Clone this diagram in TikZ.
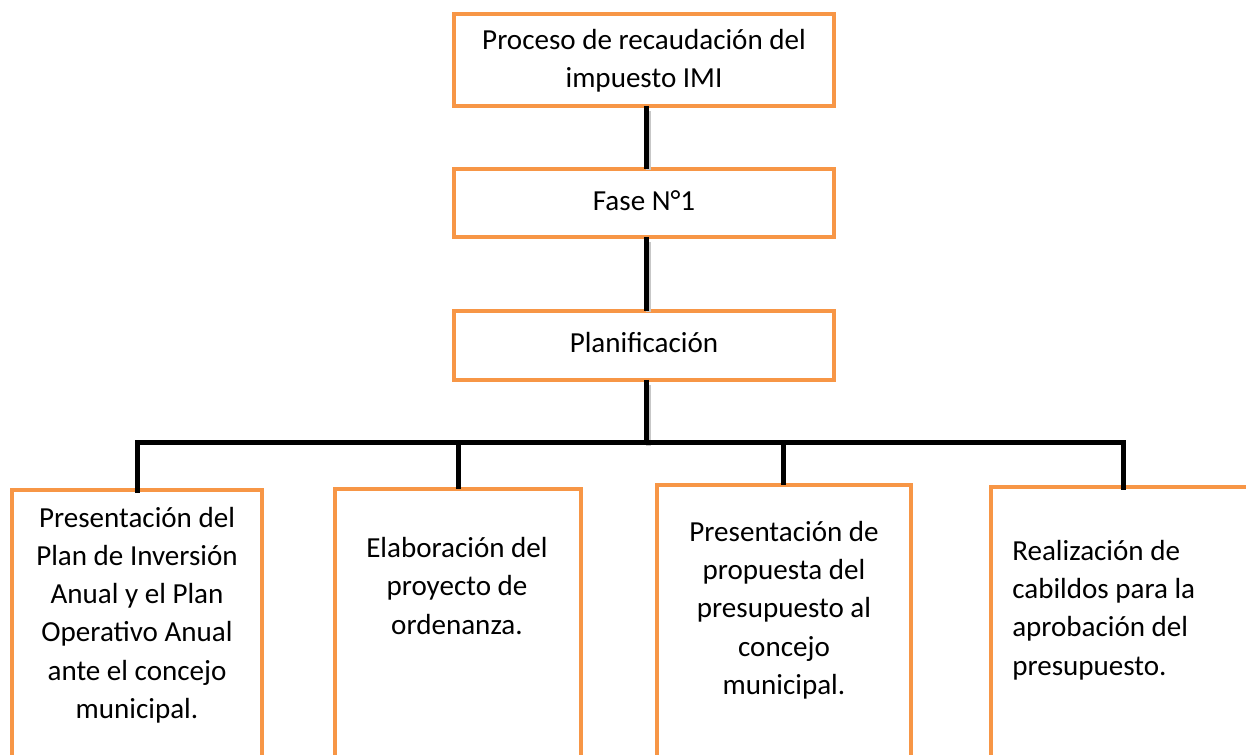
\documentclass[tikz,border=0pt]{standalone}
\usepackage{fontspec}
\setmainfont{Carlito}
\definecolor{boxorange}{RGB}{247,150,70}
\begin{document}
\begin{tikzpicture}[x=0.75pt,y=-0.75pt,
  obox/.style={draw=boxorange,line width=3pt,outer sep=0pt,inner sep=0pt,fill=white},
  txt/.style={inner sep=0pt,align=center,font=\fontsize{21.8pt}{28.7pt}\selectfont},
  conn/.style={draw=black,line width=3.75pt},
  shade/.style={draw=black!22,line width=3.75pt}]
\path[use as bounding box,fill=white] (0,0) rectangle (1246,755);
\clip (0,0) rectangle (1246,755);
% boxes
\node[obox,minimum width=380*0.75pt,minimum height=92*0.75pt] (top) at (644,60) {};
\node[obox,minimum width=380*0.75pt,minimum height=68*0.75pt] (fase) at (644,203) {};
\node[obox,minimum width=380*0.75pt,minimum height=69*0.75pt] (plan) at (644,345.5) {};
\node[obox,minimum width=250*0.75pt,minimum height=320*0.75pt] (b1) at (137,650) {};
\node[obox,minimum width=246*0.75pt,minimum height=320*0.75pt] (b2) at (458,649) {};
\node[obox,minimum width=254*0.75pt,minimum height=320*0.75pt] (b3) at (784,645) {};
\node[obox,minimum width=270*0.75pt,minimum height=320*0.75pt] (b4) at (1126,647) {};
% bus coordinates
\coordinate (busL) at (137,443);
\coordinate (busR) at (1123,443);
\coordinate (busC) at (646,443);
% shadows
\begin{scope}[shift={(2,3)}]
\path[shade] (646,108) -- (646,167);
\path[shade] (646,239) -- (646,309);
\path[shade] (646,382) -- (646,443);
\path[shade] (busL) -- (busR);
\end{scope}
% connectors
\path[conn] (top.south -| busC) -- (fase.north -| busC);
\path[conn] (fase.south -| busC) -- (plan.north -| busC);
\path[conn] (plan.south -| busC) -- (busC);
\path[conn] ([yshift=-0.75*3.75pt/2*0]busL) -- (busR);
\path[conn,line cap=rect] (busL) -- (b1.north -| busL);
\path[conn] (b2.north |- busL) -- (b2.north);
\path[conn] (783,443) -- (b3.north -| 783,0);
\path[conn,line cap=rect] (busR) -- (b4.north -| busR);
% texts
\node[txt] (t0) at (644,61) {Proceso de recaudación del\\impuesto IMI};
\node[txt] (t1) at (644,201) {Fase N°1};
\node[txt] (t2) at (644,343) {Planificación};
\node[txt] (t3) at (137,615) {Presentación del\\Plan de Inversión\\Anual y el Plan\\Operativo Anual\\ante el concejo\\municipal.};
\node[txt] (t4) at (457,586) {Elaboración del\\proyecto de\\ordenanza.};
\node[txt] (t5) at (784,610) {Presentación de\\propuesta del\\presupuesto al\\concejo\\municipal.};
\node[txt,align=left,anchor=west] (t6) at (1012,610) {Realización de\\cabildos para la\\aprobación del\\presupuesto.};
\end{tikzpicture}
\end{document}
